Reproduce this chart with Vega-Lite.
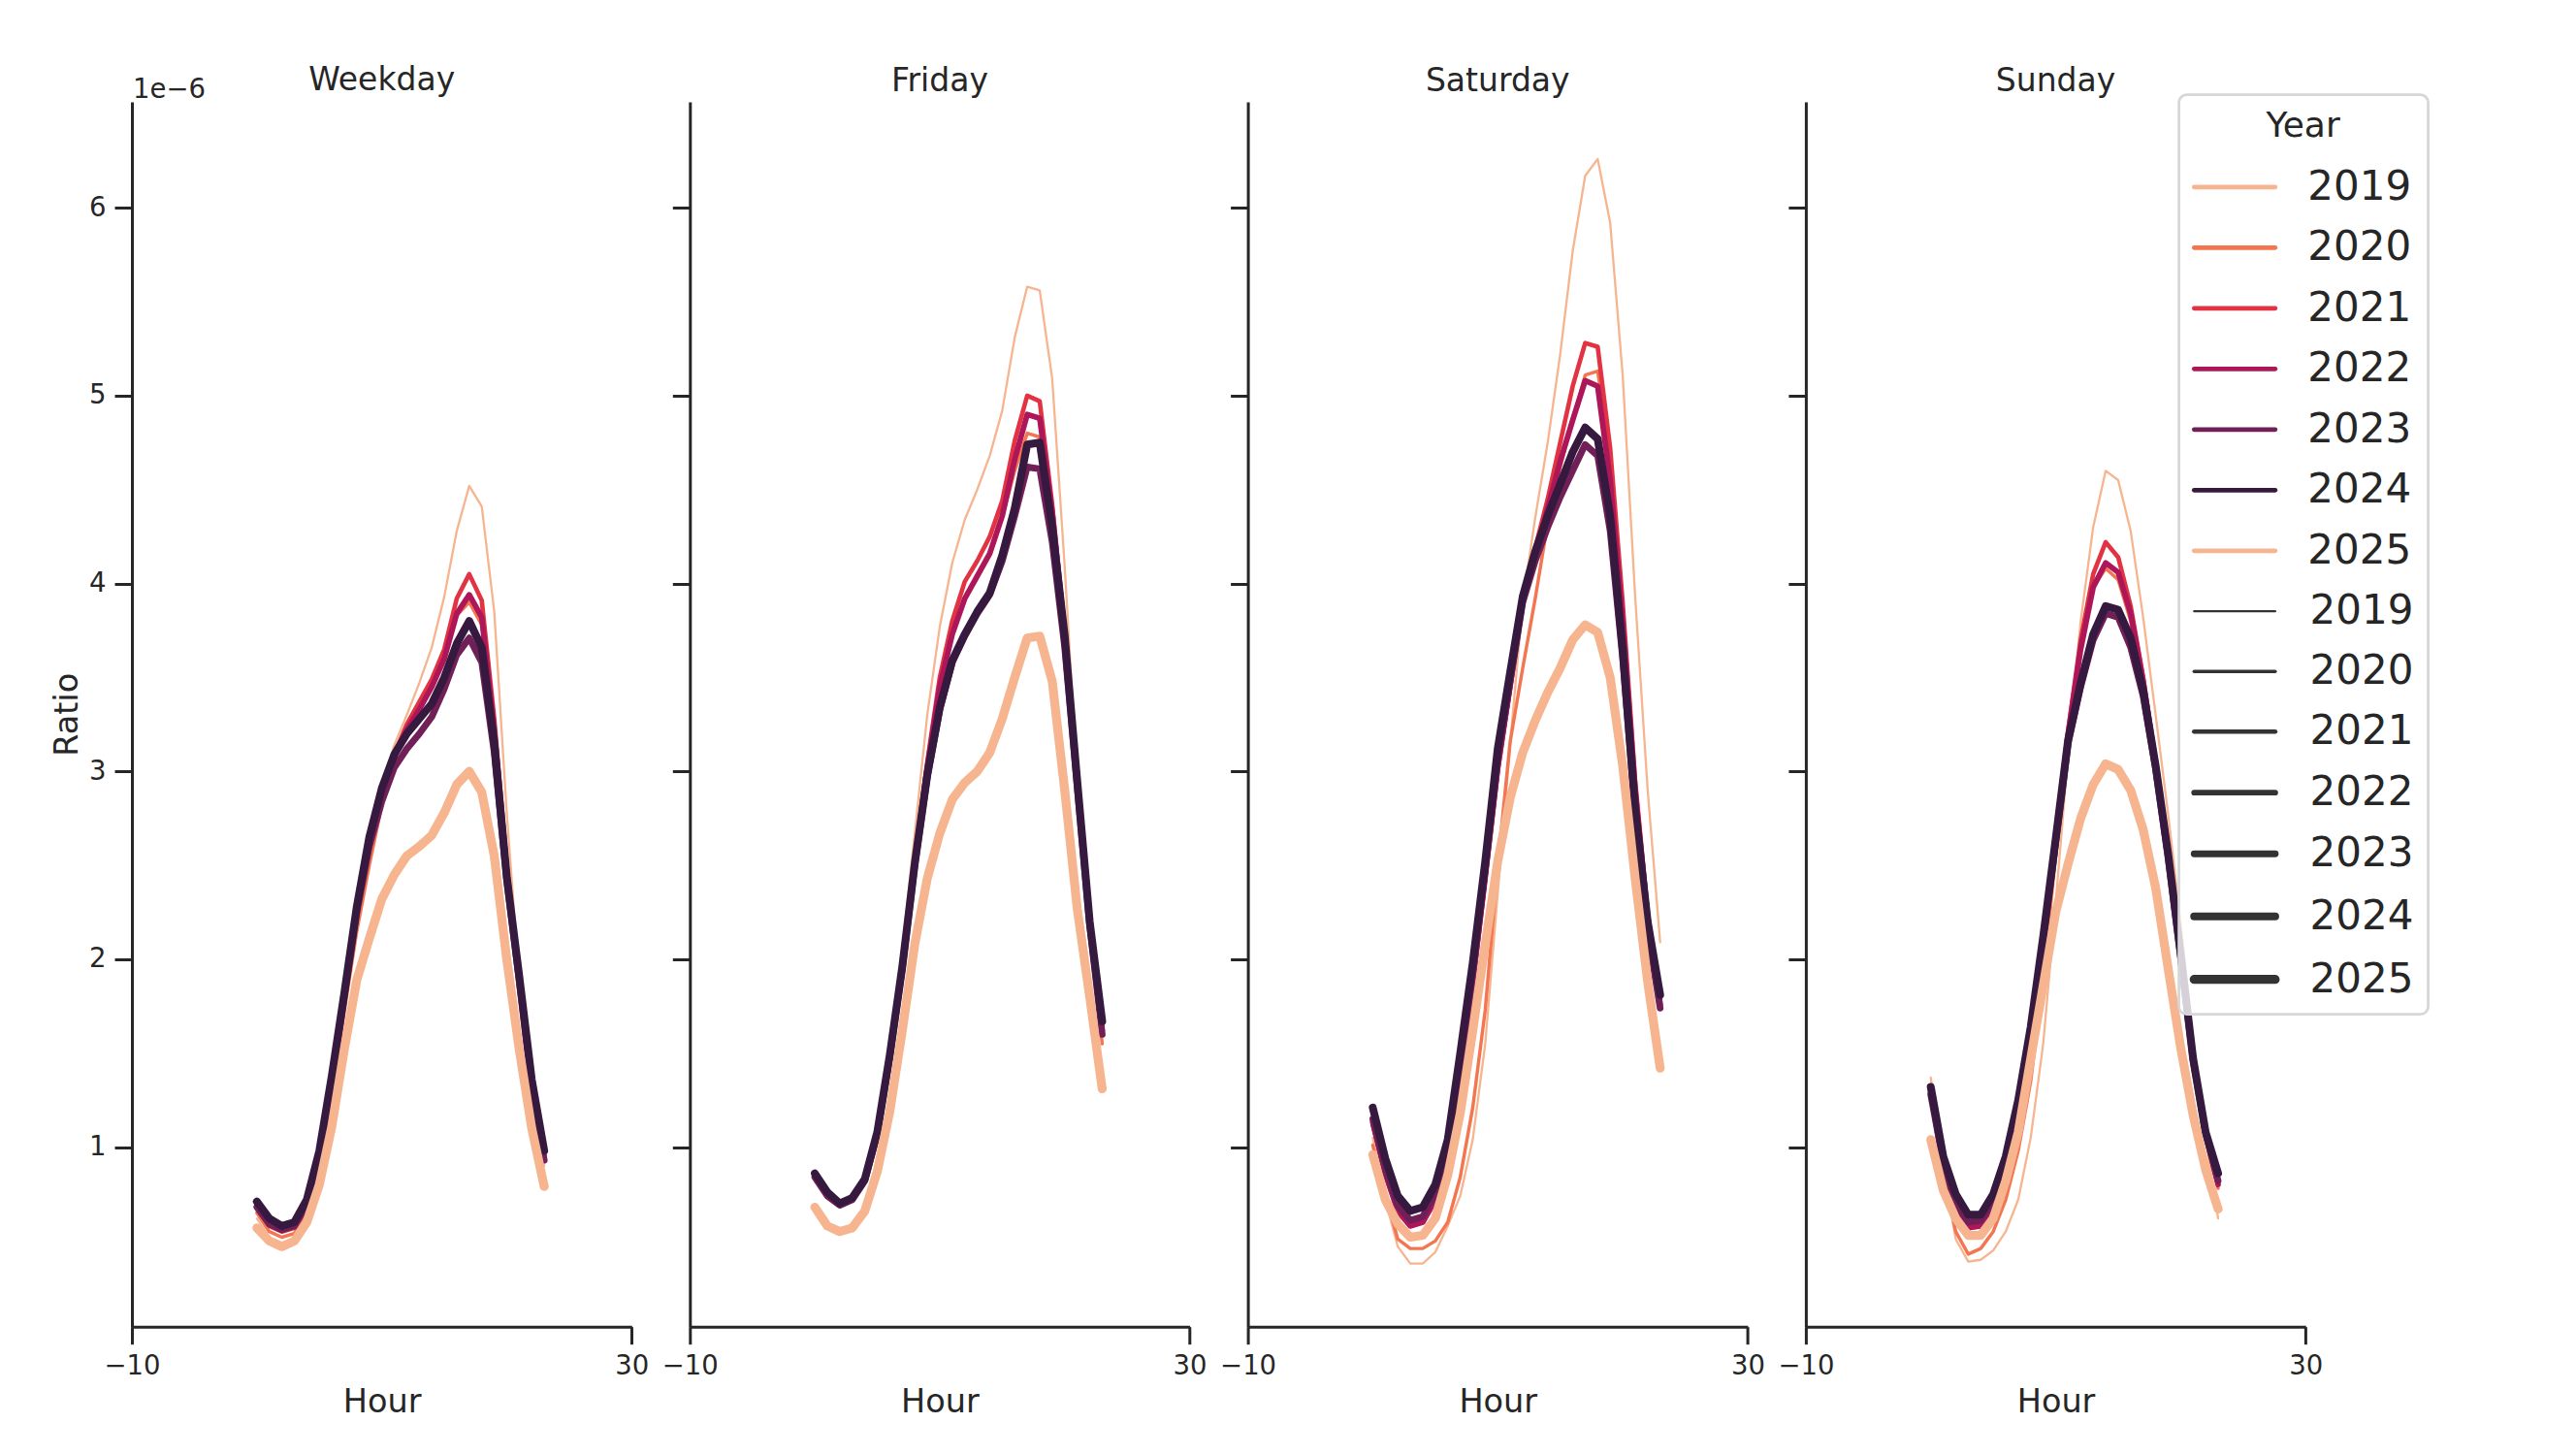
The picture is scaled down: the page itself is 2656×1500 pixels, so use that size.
{
"$schema": "https://vega.github.io/schema/vega-lite/v6.json",
"padding": {"left": 52, "top": 67, "right": 10, "bottom": 10},
"background": "white",
"config": {
  "font": "DejaVu Sans",
  "view": {"stroke": null},
  "axis": {"domainColor": "#262626", "domainWidth": 3, "tickColor": "#262626", "tickWidth": 3, "tickSize": 18, "labelFont": "DejaVu Sans", "labelFontSize": 27.5, "labelColor": "#262626", "labelPadding": 9, "titleFont": "DejaVu Sans", "titleFontSize": 33.5, "titleFontWeight": "normal", "titleColor": "#262626", "grid": false, "labelFlush": false},
  "title": {"font": "DejaVu Sans", "fontSize": 33, "fontWeight": "normal", "color": "#262626", "offset": 4, "frame": "group"},
  "legend": {"labelFont": "DejaVu Sans", "titleFont": "DejaVu Sans", "labelColor": "#262626", "titleColor": "#262626"}
},
"bounds": "flush",
"spacing": 59.3,
"datasets": {"traffic": [
{"Day":"Weekday","Year":2019,"Hour":0,"Ratio":0.62e-6},{"Day":"Weekday","Year":2019,"Hour":1,"Ratio":0.52e-6},{"Day":"Weekday","Year":2019,"Hour":2,"Ratio":0.49e-6},{"Day":"Weekday","Year":2019,"Hour":3,"Ratio":0.51e-6},{"Day":"Weekday","Year":2019,"Hour":4,"Ratio":0.62e-6},{"Day":"Weekday","Year":2019,"Hour":5,"Ratio":0.86e-6},{"Day":"Weekday","Year":2019,"Hour":6,"Ratio":1.25e-6},{"Day":"Weekday","Year":2019,"Hour":7,"Ratio":1.72e-6},{"Day":"Weekday","Year":2019,"Hour":8,"Ratio":2.18e-6},{"Day":"Weekday","Year":2019,"Hour":9,"Ratio":2.58e-6},{"Day":"Weekday","Year":2019,"Hour":10,"Ratio":2.90e-6},{"Day":"Weekday","Year":2019,"Hour":11,"Ratio":3.14e-6},{"Day":"Weekday","Year":2019,"Hour":12,"Ratio":3.30e-6},{"Day":"Weekday","Year":2019,"Hour":13,"Ratio":3.47e-6},{"Day":"Weekday","Year":2019,"Hour":14,"Ratio":3.66e-6},{"Day":"Weekday","Year":2019,"Hour":15,"Ratio":3.93e-6},{"Day":"Weekday","Year":2019,"Hour":16,"Ratio":4.28e-6},{"Day":"Weekday","Year":2019,"Hour":17,"Ratio":4.52e-6},{"Day":"Weekday","Year":2019,"Hour":18,"Ratio":4.41e-6},{"Day":"Weekday","Year":2019,"Hour":19,"Ratio":3.85e-6},{"Day":"Weekday","Year":2019,"Hour":20,"Ratio":2.78e-6},{"Day":"Weekday","Year":2019,"Hour":21,"Ratio":1.88e-6},{"Day":"Weekday","Year":2019,"Hour":22,"Ratio":1.25e-6},{"Day":"Weekday","Year":2019,"Hour":23,"Ratio":0.90e-6},
{"Day":"Weekday","Year":2020,"Hour":0,"Ratio":0.65e-6},{"Day":"Weekday","Year":2020,"Hour":1,"Ratio":0.55e-6},{"Day":"Weekday","Year":2020,"Hour":2,"Ratio":0.52e-6},{"Day":"Weekday","Year":2020,"Hour":3,"Ratio":0.54e-6},{"Day":"Weekday","Year":2020,"Hour":4,"Ratio":0.66e-6},{"Day":"Weekday","Year":2020,"Hour":5,"Ratio":0.90e-6},{"Day":"Weekday","Year":2020,"Hour":6,"Ratio":1.28e-6},{"Day":"Weekday","Year":2020,"Hour":7,"Ratio":1.72e-6},{"Day":"Weekday","Year":2020,"Hour":8,"Ratio":2.15e-6},{"Day":"Weekday","Year":2020,"Hour":9,"Ratio":2.50e-6},{"Day":"Weekday","Year":2020,"Hour":10,"Ratio":2.82e-6},{"Day":"Weekday","Year":2020,"Hour":11,"Ratio":3.06e-6},{"Day":"Weekday","Year":2020,"Hour":12,"Ratio":3.22e-6},{"Day":"Weekday","Year":2020,"Hour":13,"Ratio":3.33e-6},{"Day":"Weekday","Year":2020,"Hour":14,"Ratio":3.45e-6},{"Day":"Weekday","Year":2020,"Hour":15,"Ratio":3.62e-6},{"Day":"Weekday","Year":2020,"Hour":16,"Ratio":3.83e-6},{"Day":"Weekday","Year":2020,"Hour":17,"Ratio":3.90e-6},{"Day":"Weekday","Year":2020,"Hour":18,"Ratio":3.78e-6},{"Day":"Weekday","Year":2020,"Hour":19,"Ratio":3.22e-6},{"Day":"Weekday","Year":2020,"Hour":20,"Ratio":2.48e-6},{"Day":"Weekday","Year":2020,"Hour":21,"Ratio":1.88e-6},{"Day":"Weekday","Year":2020,"Hour":22,"Ratio":1.32e-6},{"Day":"Weekday","Year":2020,"Hour":23,"Ratio":0.94e-6},
{"Day":"Weekday","Year":2021,"Hour":0,"Ratio":0.68e-6},{"Day":"Weekday","Year":2021,"Hour":1,"Ratio":0.58e-6},{"Day":"Weekday","Year":2021,"Hour":2,"Ratio":0.55e-6},{"Day":"Weekday","Year":2021,"Hour":3,"Ratio":0.57e-6},{"Day":"Weekday","Year":2021,"Hour":4,"Ratio":0.68e-6},{"Day":"Weekday","Year":2021,"Hour":5,"Ratio":0.93e-6},{"Day":"Weekday","Year":2021,"Hour":6,"Ratio":1.33e-6},{"Day":"Weekday","Year":2021,"Hour":7,"Ratio":1.78e-6},{"Day":"Weekday","Year":2021,"Hour":8,"Ratio":2.24e-6},{"Day":"Weekday","Year":2021,"Hour":9,"Ratio":2.60e-6},{"Day":"Weekday","Year":2021,"Hour":10,"Ratio":2.88e-6},{"Day":"Weekday","Year":2021,"Hour":11,"Ratio":3.09e-6},{"Day":"Weekday","Year":2021,"Hour":12,"Ratio":3.25e-6},{"Day":"Weekday","Year":2021,"Hour":13,"Ratio":3.37e-6},{"Day":"Weekday","Year":2021,"Hour":14,"Ratio":3.49e-6},{"Day":"Weekday","Year":2021,"Hour":15,"Ratio":3.65e-6},{"Day":"Weekday","Year":2021,"Hour":16,"Ratio":3.92e-6},{"Day":"Weekday","Year":2021,"Hour":17,"Ratio":4.05e-6},{"Day":"Weekday","Year":2021,"Hour":18,"Ratio":3.91e-6},{"Day":"Weekday","Year":2021,"Hour":19,"Ratio":3.28e-6},{"Day":"Weekday","Year":2021,"Hour":20,"Ratio":2.50e-6},{"Day":"Weekday","Year":2021,"Hour":21,"Ratio":1.91e-6},{"Day":"Weekday","Year":2021,"Hour":22,"Ratio":1.34e-6},{"Day":"Weekday","Year":2021,"Hour":23,"Ratio":0.95e-6},
{"Day":"Weekday","Year":2022,"Hour":0,"Ratio":0.69e-6},{"Day":"Weekday","Year":2022,"Hour":1,"Ratio":0.59e-6},{"Day":"Weekday","Year":2022,"Hour":2,"Ratio":0.56e-6},{"Day":"Weekday","Year":2022,"Hour":3,"Ratio":0.58e-6},{"Day":"Weekday","Year":2022,"Hour":4,"Ratio":0.69e-6},{"Day":"Weekday","Year":2022,"Hour":5,"Ratio":0.94e-6},{"Day":"Weekday","Year":2022,"Hour":6,"Ratio":1.34e-6},{"Day":"Weekday","Year":2022,"Hour":7,"Ratio":1.80e-6},{"Day":"Weekday","Year":2022,"Hour":8,"Ratio":2.26e-6},{"Day":"Weekday","Year":2022,"Hour":9,"Ratio":2.62e-6},{"Day":"Weekday","Year":2022,"Hour":10,"Ratio":2.88e-6},{"Day":"Weekday","Year":2022,"Hour":11,"Ratio":3.08e-6},{"Day":"Weekday","Year":2022,"Hour":12,"Ratio":3.22e-6},{"Day":"Weekday","Year":2022,"Hour":13,"Ratio":3.33e-6},{"Day":"Weekday","Year":2022,"Hour":14,"Ratio":3.45e-6},{"Day":"Weekday","Year":2022,"Hour":15,"Ratio":3.60e-6},{"Day":"Weekday","Year":2022,"Hour":16,"Ratio":3.84e-6},{"Day":"Weekday","Year":2022,"Hour":17,"Ratio":3.94e-6},{"Day":"Weekday","Year":2022,"Hour":18,"Ratio":3.82e-6},{"Day":"Weekday","Year":2022,"Hour":19,"Ratio":3.22e-6},{"Day":"Weekday","Year":2022,"Hour":20,"Ratio":2.47e-6},{"Day":"Weekday","Year":2022,"Hour":21,"Ratio":1.90e-6},{"Day":"Weekday","Year":2022,"Hour":22,"Ratio":1.33e-6},{"Day":"Weekday","Year":2022,"Hour":23,"Ratio":0.94e-6},
{"Day":"Weekday","Year":2023,"Hour":0,"Ratio":0.68e-6},{"Day":"Weekday","Year":2023,"Hour":1,"Ratio":0.59e-6},{"Day":"Weekday","Year":2023,"Hour":2,"Ratio":0.56e-6},{"Day":"Weekday","Year":2023,"Hour":3,"Ratio":0.58e-6},{"Day":"Weekday","Year":2023,"Hour":4,"Ratio":0.69e-6},{"Day":"Weekday","Year":2023,"Hour":5,"Ratio":0.95e-6},{"Day":"Weekday","Year":2023,"Hour":6,"Ratio":1.34e-6},{"Day":"Weekday","Year":2023,"Hour":7,"Ratio":1.80e-6},{"Day":"Weekday","Year":2023,"Hour":8,"Ratio":2.25e-6},{"Day":"Weekday","Year":2023,"Hour":9,"Ratio":2.60e-6},{"Day":"Weekday","Year":2023,"Hour":10,"Ratio":2.84e-6},{"Day":"Weekday","Year":2023,"Hour":11,"Ratio":3.02e-6},{"Day":"Weekday","Year":2023,"Hour":12,"Ratio":3.12e-6},{"Day":"Weekday","Year":2023,"Hour":13,"Ratio":3.20e-6},{"Day":"Weekday","Year":2023,"Hour":14,"Ratio":3.29e-6},{"Day":"Weekday","Year":2023,"Hour":15,"Ratio":3.44e-6},{"Day":"Weekday","Year":2023,"Hour":16,"Ratio":3.62e-6},{"Day":"Weekday","Year":2023,"Hour":17,"Ratio":3.71e-6},{"Day":"Weekday","Year":2023,"Hour":18,"Ratio":3.58e-6},{"Day":"Weekday","Year":2023,"Hour":19,"Ratio":3.10e-6},{"Day":"Weekday","Year":2023,"Hour":20,"Ratio":2.42e-6},{"Day":"Weekday","Year":2023,"Hour":21,"Ratio":1.88e-6},{"Day":"Weekday","Year":2023,"Hour":22,"Ratio":1.32e-6},{"Day":"Weekday","Year":2023,"Hour":23,"Ratio":0.93e-6},
{"Day":"Weekday","Year":2024,"Hour":0,"Ratio":0.71e-6},{"Day":"Weekday","Year":2024,"Hour":1,"Ratio":0.62e-6},{"Day":"Weekday","Year":2024,"Hour":2,"Ratio":0.58e-6},{"Day":"Weekday","Year":2024,"Hour":3,"Ratio":0.60e-6},{"Day":"Weekday","Year":2024,"Hour":4,"Ratio":0.72e-6},{"Day":"Weekday","Year":2024,"Hour":5,"Ratio":0.98e-6},{"Day":"Weekday","Year":2024,"Hour":6,"Ratio":1.38e-6},{"Day":"Weekday","Year":2024,"Hour":7,"Ratio":1.82e-6},{"Day":"Weekday","Year":2024,"Hour":8,"Ratio":2.28e-6},{"Day":"Weekday","Year":2024,"Hour":9,"Ratio":2.65e-6},{"Day":"Weekday","Year":2024,"Hour":10,"Ratio":2.91e-6},{"Day":"Weekday","Year":2024,"Hour":11,"Ratio":3.09e-6},{"Day":"Weekday","Year":2024,"Hour":12,"Ratio":3.20e-6},{"Day":"Weekday","Year":2024,"Hour":13,"Ratio":3.28e-6},{"Day":"Weekday","Year":2024,"Hour":14,"Ratio":3.36e-6},{"Day":"Weekday","Year":2024,"Hour":15,"Ratio":3.50e-6},{"Day":"Weekday","Year":2024,"Hour":16,"Ratio":3.68e-6},{"Day":"Weekday","Year":2024,"Hour":17,"Ratio":3.80e-6},{"Day":"Weekday","Year":2024,"Hour":18,"Ratio":3.66e-6},{"Day":"Weekday","Year":2024,"Hour":19,"Ratio":3.15e-6},{"Day":"Weekday","Year":2024,"Hour":20,"Ratio":2.44e-6},{"Day":"Weekday","Year":2024,"Hour":21,"Ratio":1.91e-6},{"Day":"Weekday","Year":2024,"Hour":22,"Ratio":1.36e-6},{"Day":"Weekday","Year":2024,"Hour":23,"Ratio":0.98e-6},
{"Day":"Weekday","Year":2025,"Hour":0,"Ratio":0.57e-6},{"Day":"Weekday","Year":2025,"Hour":1,"Ratio":0.50e-6},{"Day":"Weekday","Year":2025,"Hour":2,"Ratio":0.47e-6},{"Day":"Weekday","Year":2025,"Hour":3,"Ratio":0.50e-6},{"Day":"Weekday","Year":2025,"Hour":4,"Ratio":0.60e-6},{"Day":"Weekday","Year":2025,"Hour":5,"Ratio":0.80e-6},{"Day":"Weekday","Year":2025,"Hour":6,"Ratio":1.11e-6},{"Day":"Weekday","Year":2025,"Hour":7,"Ratio":1.52e-6},{"Day":"Weekday","Year":2025,"Hour":8,"Ratio":1.89e-6},{"Day":"Weekday","Year":2025,"Hour":9,"Ratio":2.11e-6},{"Day":"Weekday","Year":2025,"Hour":10,"Ratio":2.32e-6},{"Day":"Weekday","Year":2025,"Hour":11,"Ratio":2.45e-6},{"Day":"Weekday","Year":2025,"Hour":12,"Ratio":2.55e-6},{"Day":"Weekday","Year":2025,"Hour":13,"Ratio":2.60e-6},{"Day":"Weekday","Year":2025,"Hour":14,"Ratio":2.66e-6},{"Day":"Weekday","Year":2025,"Hour":15,"Ratio":2.78e-6},{"Day":"Weekday","Year":2025,"Hour":16,"Ratio":2.93e-6},{"Day":"Weekday","Year":2025,"Hour":17,"Ratio":3.00e-6},{"Day":"Weekday","Year":2025,"Hour":18,"Ratio":2.89e-6},{"Day":"Weekday","Year":2025,"Hour":19,"Ratio":2.55e-6},{"Day":"Weekday","Year":2025,"Hour":20,"Ratio":2.00e-6},{"Day":"Weekday","Year":2025,"Hour":21,"Ratio":1.52e-6},{"Day":"Weekday","Year":2025,"Hour":22,"Ratio":1.10e-6},{"Day":"Weekday","Year":2025,"Hour":23,"Ratio":0.79e-6},
{"Day":"Friday","Year":2019,"Hour":0,"Ratio":0.82e-6},{"Day":"Friday","Year":2019,"Hour":1,"Ratio":0.73e-6},{"Day":"Friday","Year":2019,"Hour":2,"Ratio":0.68e-6},{"Day":"Friday","Year":2019,"Hour":3,"Ratio":0.71e-6},{"Day":"Friday","Year":2019,"Hour":4,"Ratio":0.80e-6},{"Day":"Friday","Year":2019,"Hour":5,"Ratio":1.05e-6},{"Day":"Friday","Year":2019,"Hour":6,"Ratio":1.48e-6},{"Day":"Friday","Year":2019,"Hour":7,"Ratio":2.05e-6},{"Day":"Friday","Year":2019,"Hour":8,"Ratio":2.67e-6},{"Day":"Friday","Year":2019,"Hour":9,"Ratio":3.30e-6},{"Day":"Friday","Year":2019,"Hour":10,"Ratio":3.77e-6},{"Day":"Friday","Year":2019,"Hour":11,"Ratio":4.11e-6},{"Day":"Friday","Year":2019,"Hour":12,"Ratio":4.34e-6},{"Day":"Friday","Year":2019,"Hour":13,"Ratio":4.50e-6},{"Day":"Friday","Year":2019,"Hour":14,"Ratio":4.68e-6},{"Day":"Friday","Year":2019,"Hour":15,"Ratio":4.92e-6},{"Day":"Friday","Year":2019,"Hour":16,"Ratio":5.31e-6},{"Day":"Friday","Year":2019,"Hour":17,"Ratio":5.58e-6},{"Day":"Friday","Year":2019,"Hour":18,"Ratio":5.56e-6},{"Day":"Friday","Year":2019,"Hour":19,"Ratio":5.09e-6},{"Day":"Friday","Year":2019,"Hour":20,"Ratio":4.09e-6},{"Day":"Friday","Year":2019,"Hour":21,"Ratio":2.95e-6},{"Day":"Friday","Year":2019,"Hour":22,"Ratio":2.15e-6},{"Day":"Friday","Year":2019,"Hour":23,"Ratio":1.55e-6},
{"Day":"Friday","Year":2020,"Hour":0,"Ratio":0.84e-6},{"Day":"Friday","Year":2020,"Hour":1,"Ratio":0.74e-6},{"Day":"Friday","Year":2020,"Hour":2,"Ratio":0.69e-6},{"Day":"Friday","Year":2020,"Hour":3,"Ratio":0.72e-6},{"Day":"Friday","Year":2020,"Hour":4,"Ratio":0.82e-6},{"Day":"Friday","Year":2020,"Hour":5,"Ratio":1.07e-6},{"Day":"Friday","Year":2020,"Hour":6,"Ratio":1.48e-6},{"Day":"Friday","Year":2020,"Hour":7,"Ratio":1.97e-6},{"Day":"Friday","Year":2020,"Hour":8,"Ratio":2.52e-6},{"Day":"Friday","Year":2020,"Hour":9,"Ratio":3.02e-6},{"Day":"Friday","Year":2020,"Hour":10,"Ratio":3.42e-6},{"Day":"Friday","Year":2020,"Hour":11,"Ratio":3.72e-6},{"Day":"Friday","Year":2020,"Hour":12,"Ratio":3.92e-6},{"Day":"Friday","Year":2020,"Hour":13,"Ratio":4.03e-6},{"Day":"Friday","Year":2020,"Hour":14,"Ratio":4.15e-6},{"Day":"Friday","Year":2020,"Hour":15,"Ratio":4.35e-6},{"Day":"Friday","Year":2020,"Hour":16,"Ratio":4.60e-6},{"Day":"Friday","Year":2020,"Hour":17,"Ratio":4.80e-6},{"Day":"Friday","Year":2020,"Hour":18,"Ratio":4.78e-6},{"Day":"Friday","Year":2020,"Hour":19,"Ratio":4.32e-6},{"Day":"Friday","Year":2020,"Hour":20,"Ratio":3.70e-6},{"Day":"Friday","Year":2020,"Hour":21,"Ratio":2.92e-6},{"Day":"Friday","Year":2020,"Hour":22,"Ratio":2.15e-6},{"Day":"Friday","Year":2020,"Hour":23,"Ratio":1.55e-6},
{"Day":"Friday","Year":2021,"Hour":0,"Ratio":0.85e-6},{"Day":"Friday","Year":2021,"Hour":1,"Ratio":0.75e-6},{"Day":"Friday","Year":2021,"Hour":2,"Ratio":0.70e-6},{"Day":"Friday","Year":2021,"Hour":3,"Ratio":0.73e-6},{"Day":"Friday","Year":2021,"Hour":4,"Ratio":0.83e-6},{"Day":"Friday","Year":2021,"Hour":5,"Ratio":1.08e-6},{"Day":"Friday","Year":2021,"Hour":6,"Ratio":1.49e-6},{"Day":"Friday","Year":2021,"Hour":7,"Ratio":1.98e-6},{"Day":"Friday","Year":2021,"Hour":8,"Ratio":2.54e-6},{"Day":"Friday","Year":2021,"Hour":9,"Ratio":3.05e-6},{"Day":"Friday","Year":2021,"Hour":10,"Ratio":3.50e-6},{"Day":"Friday","Year":2021,"Hour":11,"Ratio":3.80e-6},{"Day":"Friday","Year":2021,"Hour":12,"Ratio":4.01e-6},{"Day":"Friday","Year":2021,"Hour":13,"Ratio":4.12e-6},{"Day":"Friday","Year":2021,"Hour":14,"Ratio":4.25e-6},{"Day":"Friday","Year":2021,"Hour":15,"Ratio":4.44e-6},{"Day":"Friday","Year":2021,"Hour":16,"Ratio":4.76e-6},{"Day":"Friday","Year":2021,"Hour":17,"Ratio":5.00e-6},{"Day":"Friday","Year":2021,"Hour":18,"Ratio":4.97e-6},{"Day":"Friday","Year":2021,"Hour":19,"Ratio":4.42e-6},{"Day":"Friday","Year":2021,"Hour":20,"Ratio":3.75e-6},{"Day":"Friday","Year":2021,"Hour":21,"Ratio":2.95e-6},{"Day":"Friday","Year":2021,"Hour":22,"Ratio":2.18e-6},{"Day":"Friday","Year":2021,"Hour":23,"Ratio":1.60e-6},
{"Day":"Friday","Year":2022,"Hour":0,"Ratio":0.85e-6},{"Day":"Friday","Year":2022,"Hour":1,"Ratio":0.75e-6},{"Day":"Friday","Year":2022,"Hour":2,"Ratio":0.70e-6},{"Day":"Friday","Year":2022,"Hour":3,"Ratio":0.73e-6},{"Day":"Friday","Year":2022,"Hour":4,"Ratio":0.83e-6},{"Day":"Friday","Year":2022,"Hour":5,"Ratio":1.08e-6},{"Day":"Friday","Year":2022,"Hour":6,"Ratio":1.49e-6},{"Day":"Friday","Year":2022,"Hour":7,"Ratio":1.97e-6},{"Day":"Friday","Year":2022,"Hour":8,"Ratio":2.52e-6},{"Day":"Friday","Year":2022,"Hour":9,"Ratio":3.02e-6},{"Day":"Friday","Year":2022,"Hour":10,"Ratio":3.45e-6},{"Day":"Friday","Year":2022,"Hour":11,"Ratio":3.73e-6},{"Day":"Friday","Year":2022,"Hour":12,"Ratio":3.92e-6},{"Day":"Friday","Year":2022,"Hour":13,"Ratio":4.04e-6},{"Day":"Friday","Year":2022,"Hour":14,"Ratio":4.16e-6},{"Day":"Friday","Year":2022,"Hour":15,"Ratio":4.36e-6},{"Day":"Friday","Year":2022,"Hour":16,"Ratio":4.66e-6},{"Day":"Friday","Year":2022,"Hour":17,"Ratio":4.90e-6},{"Day":"Friday","Year":2022,"Hour":18,"Ratio":4.88e-6},{"Day":"Friday","Year":2022,"Hour":19,"Ratio":4.38e-6},{"Day":"Friday","Year":2022,"Hour":20,"Ratio":3.73e-6},{"Day":"Friday","Year":2022,"Hour":21,"Ratio":2.95e-6},{"Day":"Friday","Year":2022,"Hour":22,"Ratio":2.18e-6},{"Day":"Friday","Year":2022,"Hour":23,"Ratio":1.62e-6},
{"Day":"Friday","Year":2023,"Hour":0,"Ratio":0.84e-6},{"Day":"Friday","Year":2023,"Hour":1,"Ratio":0.74e-6},{"Day":"Friday","Year":2023,"Hour":2,"Ratio":0.69e-6},{"Day":"Friday","Year":2023,"Hour":3,"Ratio":0.72e-6},{"Day":"Friday","Year":2023,"Hour":4,"Ratio":0.82e-6},{"Day":"Friday","Year":2023,"Hour":5,"Ratio":1.07e-6},{"Day":"Friday","Year":2023,"Hour":6,"Ratio":1.48e-6},{"Day":"Friday","Year":2023,"Hour":7,"Ratio":1.95e-6},{"Day":"Friday","Year":2023,"Hour":8,"Ratio":2.50e-6},{"Day":"Friday","Year":2023,"Hour":9,"Ratio":2.97e-6},{"Day":"Friday","Year":2023,"Hour":10,"Ratio":3.33e-6},{"Day":"Friday","Year":2023,"Hour":11,"Ratio":3.58e-6},{"Day":"Friday","Year":2023,"Hour":12,"Ratio":3.72e-6},{"Day":"Friday","Year":2023,"Hour":13,"Ratio":3.84e-6},{"Day":"Friday","Year":2023,"Hour":14,"Ratio":3.94e-6},{"Day":"Friday","Year":2023,"Hour":15,"Ratio":4.12e-6},{"Day":"Friday","Year":2023,"Hour":16,"Ratio":4.36e-6},{"Day":"Friday","Year":2023,"Hour":17,"Ratio":4.62e-6},{"Day":"Friday","Year":2023,"Hour":18,"Ratio":4.61e-6},{"Day":"Friday","Year":2023,"Hour":19,"Ratio":4.22e-6},{"Day":"Friday","Year":2023,"Hour":20,"Ratio":3.66e-6},{"Day":"Friday","Year":2023,"Hour":21,"Ratio":2.92e-6},{"Day":"Friday","Year":2023,"Hour":22,"Ratio":2.18e-6},{"Day":"Friday","Year":2023,"Hour":23,"Ratio":1.60e-6},
{"Day":"Friday","Year":2024,"Hour":0,"Ratio":0.86e-6},{"Day":"Friday","Year":2024,"Hour":1,"Ratio":0.76e-6},{"Day":"Friday","Year":2024,"Hour":2,"Ratio":0.70e-6},{"Day":"Friday","Year":2024,"Hour":3,"Ratio":0.73e-6},{"Day":"Friday","Year":2024,"Hour":4,"Ratio":0.83e-6},{"Day":"Friday","Year":2024,"Hour":5,"Ratio":1.08e-6},{"Day":"Friday","Year":2024,"Hour":6,"Ratio":1.49e-6},{"Day":"Friday","Year":2024,"Hour":7,"Ratio":1.96e-6},{"Day":"Friday","Year":2024,"Hour":8,"Ratio":2.51e-6},{"Day":"Friday","Year":2024,"Hour":9,"Ratio":2.98e-6},{"Day":"Friday","Year":2024,"Hour":10,"Ratio":3.34e-6},{"Day":"Friday","Year":2024,"Hour":11,"Ratio":3.59e-6},{"Day":"Friday","Year":2024,"Hour":12,"Ratio":3.73e-6},{"Day":"Friday","Year":2024,"Hour":13,"Ratio":3.85e-6},{"Day":"Friday","Year":2024,"Hour":14,"Ratio":3.95e-6},{"Day":"Friday","Year":2024,"Hour":15,"Ratio":4.15e-6},{"Day":"Friday","Year":2024,"Hour":16,"Ratio":4.40e-6},{"Day":"Friday","Year":2024,"Hour":17,"Ratio":4.74e-6},{"Day":"Friday","Year":2024,"Hour":18,"Ratio":4.75e-6},{"Day":"Friday","Year":2024,"Hour":19,"Ratio":4.30e-6},{"Day":"Friday","Year":2024,"Hour":20,"Ratio":3.72e-6},{"Day":"Friday","Year":2024,"Hour":21,"Ratio":2.95e-6},{"Day":"Friday","Year":2024,"Hour":22,"Ratio":2.20e-6},{"Day":"Friday","Year":2024,"Hour":23,"Ratio":1.67e-6},
{"Day":"Friday","Year":2025,"Hour":0,"Ratio":0.68e-6},{"Day":"Friday","Year":2025,"Hour":1,"Ratio":0.58e-6},{"Day":"Friday","Year":2025,"Hour":2,"Ratio":0.55e-6},{"Day":"Friday","Year":2025,"Hour":3,"Ratio":0.57e-6},{"Day":"Friday","Year":2025,"Hour":4,"Ratio":0.66e-6},{"Day":"Friday","Year":2025,"Hour":5,"Ratio":0.87e-6},{"Day":"Friday","Year":2025,"Hour":6,"Ratio":1.19e-6},{"Day":"Friday","Year":2025,"Hour":7,"Ratio":1.62e-6},{"Day":"Friday","Year":2025,"Hour":8,"Ratio":2.08e-6},{"Day":"Friday","Year":2025,"Hour":9,"Ratio":2.43e-6},{"Day":"Friday","Year":2025,"Hour":10,"Ratio":2.67e-6},{"Day":"Friday","Year":2025,"Hour":11,"Ratio":2.85e-6},{"Day":"Friday","Year":2025,"Hour":12,"Ratio":2.94e-6},{"Day":"Friday","Year":2025,"Hour":13,"Ratio":3.00e-6},{"Day":"Friday","Year":2025,"Hour":14,"Ratio":3.10e-6},{"Day":"Friday","Year":2025,"Hour":15,"Ratio":3.28e-6},{"Day":"Friday","Year":2025,"Hour":16,"Ratio":3.50e-6},{"Day":"Friday","Year":2025,"Hour":17,"Ratio":3.71e-6},{"Day":"Friday","Year":2025,"Hour":18,"Ratio":3.72e-6},{"Day":"Friday","Year":2025,"Hour":19,"Ratio":3.48e-6},{"Day":"Friday","Year":2025,"Hour":20,"Ratio":2.90e-6},{"Day":"Friday","Year":2025,"Hour":21,"Ratio":2.27e-6},{"Day":"Friday","Year":2025,"Hour":22,"Ratio":1.80e-6},{"Day":"Friday","Year":2025,"Hour":23,"Ratio":1.31e-6},
{"Day":"Saturday","Year":2019,"Hour":0,"Ratio":1.05e-6},{"Day":"Saturday","Year":2019,"Hour":1,"Ratio":0.72e-6},{"Day":"Saturday","Year":2019,"Hour":2,"Ratio":0.47e-6},{"Day":"Saturday","Year":2019,"Hour":3,"Ratio":0.38e-6},{"Day":"Saturday","Year":2019,"Hour":4,"Ratio":0.38e-6},{"Day":"Saturday","Year":2019,"Hour":5,"Ratio":0.44e-6},{"Day":"Saturday","Year":2019,"Hour":6,"Ratio":0.58e-6},{"Day":"Saturday","Year":2019,"Hour":7,"Ratio":0.74e-6},{"Day":"Saturday","Year":2019,"Hour":8,"Ratio":1.04e-6},{"Day":"Saturday","Year":2019,"Hour":9,"Ratio":1.55e-6},{"Day":"Saturday","Year":2019,"Hour":10,"Ratio":2.35e-6},{"Day":"Saturday","Year":2019,"Hour":11,"Ratio":3.15e-6},{"Day":"Saturday","Year":2019,"Hour":12,"Ratio":3.90e-6},{"Day":"Saturday","Year":2019,"Hour":13,"Ratio":4.35e-6},{"Day":"Saturday","Year":2019,"Hour":14,"Ratio":4.75e-6},{"Day":"Saturday","Year":2019,"Hour":15,"Ratio":5.22e-6},{"Day":"Saturday","Year":2019,"Hour":16,"Ratio":5.77e-6},{"Day":"Saturday","Year":2019,"Hour":17,"Ratio":6.17e-6},{"Day":"Saturday","Year":2019,"Hour":18,"Ratio":6.26e-6},{"Day":"Saturday","Year":2019,"Hour":19,"Ratio":5.92e-6},{"Day":"Saturday","Year":2019,"Hour":20,"Ratio":5.11e-6},{"Day":"Saturday","Year":2019,"Hour":21,"Ratio":3.93e-6},{"Day":"Saturday","Year":2019,"Hour":22,"Ratio":2.90e-6},{"Day":"Saturday","Year":2019,"Hour":23,"Ratio":2.09e-6},
{"Day":"Saturday","Year":2020,"Hour":0,"Ratio":1.01e-6},{"Day":"Saturday","Year":2020,"Hour":1,"Ratio":0.75e-6},{"Day":"Saturday","Year":2020,"Hour":2,"Ratio":0.51e-6},{"Day":"Saturday","Year":2020,"Hour":3,"Ratio":0.46e-6},{"Day":"Saturday","Year":2020,"Hour":4,"Ratio":0.46e-6},{"Day":"Saturday","Year":2020,"Hour":5,"Ratio":0.50e-6},{"Day":"Saturday","Year":2020,"Hour":6,"Ratio":0.60e-6},{"Day":"Saturday","Year":2020,"Hour":7,"Ratio":0.84e-6},{"Day":"Saturday","Year":2020,"Hour":8,"Ratio":1.21e-6},{"Day":"Saturday","Year":2020,"Hour":9,"Ratio":1.73e-6},{"Day":"Saturday","Year":2020,"Hour":10,"Ratio":2.50e-6},{"Day":"Saturday","Year":2020,"Hour":11,"Ratio":3.16e-6},{"Day":"Saturday","Year":2020,"Hour":12,"Ratio":3.55e-6},{"Day":"Saturday","Year":2020,"Hour":13,"Ratio":3.92e-6},{"Day":"Saturday","Year":2020,"Hour":14,"Ratio":4.32e-6},{"Day":"Saturday","Year":2020,"Hour":15,"Ratio":4.62e-6},{"Day":"Saturday","Year":2020,"Hour":16,"Ratio":4.87e-6},{"Day":"Saturday","Year":2020,"Hour":17,"Ratio":5.11e-6},{"Day":"Saturday","Year":2020,"Hour":18,"Ratio":5.13e-6},{"Day":"Saturday","Year":2020,"Hour":19,"Ratio":4.70e-6},{"Day":"Saturday","Year":2020,"Hour":20,"Ratio":3.88e-6},{"Day":"Saturday","Year":2020,"Hour":21,"Ratio":2.90e-6},{"Day":"Saturday","Year":2020,"Hour":22,"Ratio":2.20e-6},{"Day":"Saturday","Year":2020,"Hour":23,"Ratio":1.75e-6},
{"Day":"Saturday","Year":2021,"Hour":0,"Ratio":1.12e-6},{"Day":"Saturday","Year":2021,"Hour":1,"Ratio":0.85e-6},{"Day":"Saturday","Year":2021,"Hour":2,"Ratio":0.66e-6},{"Day":"Saturday","Year":2021,"Hour":3,"Ratio":0.59e-6},{"Day":"Saturday","Year":2021,"Hour":4,"Ratio":0.60e-6},{"Day":"Saturday","Year":2021,"Hour":5,"Ratio":0.71e-6},{"Day":"Saturday","Year":2021,"Hour":6,"Ratio":0.95e-6},{"Day":"Saturday","Year":2021,"Hour":7,"Ratio":1.38e-6},{"Day":"Saturday","Year":2021,"Hour":8,"Ratio":1.86e-6},{"Day":"Saturday","Year":2021,"Hour":9,"Ratio":2.42e-6},{"Day":"Saturday","Year":2021,"Hour":10,"Ratio":3.00e-6},{"Day":"Saturday","Year":2021,"Hour":11,"Ratio":3.45e-6},{"Day":"Saturday","Year":2021,"Hour":12,"Ratio":3.90e-6},{"Day":"Saturday","Year":2021,"Hour":13,"Ratio":4.19e-6},{"Day":"Saturday","Year":2021,"Hour":14,"Ratio":4.45e-6},{"Day":"Saturday","Year":2021,"Hour":15,"Ratio":4.75e-6},{"Day":"Saturday","Year":2021,"Hour":16,"Ratio":5.05e-6},{"Day":"Saturday","Year":2021,"Hour":17,"Ratio":5.28e-6},{"Day":"Saturday","Year":2021,"Hour":18,"Ratio":5.26e-6},{"Day":"Saturday","Year":2021,"Hour":19,"Ratio":4.72e-6},{"Day":"Saturday","Year":2021,"Hour":20,"Ratio":3.90e-6},{"Day":"Saturday","Year":2021,"Hour":21,"Ratio":2.95e-6},{"Day":"Saturday","Year":2021,"Hour":22,"Ratio":2.25e-6},{"Day":"Saturday","Year":2021,"Hour":23,"Ratio":1.78e-6},
{"Day":"Saturday","Year":2022,"Hour":0,"Ratio":1.13e-6},{"Day":"Saturday","Year":2022,"Hour":1,"Ratio":0.86e-6},{"Day":"Saturday","Year":2022,"Hour":2,"Ratio":0.66e-6},{"Day":"Saturday","Year":2022,"Hour":3,"Ratio":0.58e-6},{"Day":"Saturday","Year":2022,"Hour":4,"Ratio":0.60e-6},{"Day":"Saturday","Year":2022,"Hour":5,"Ratio":0.72e-6},{"Day":"Saturday","Year":2022,"Hour":6,"Ratio":0.96e-6},{"Day":"Saturday","Year":2022,"Hour":7,"Ratio":1.40e-6},{"Day":"Saturday","Year":2022,"Hour":8,"Ratio":1.88e-6},{"Day":"Saturday","Year":2022,"Hour":9,"Ratio":2.44e-6},{"Day":"Saturday","Year":2022,"Hour":10,"Ratio":3.02e-6},{"Day":"Saturday","Year":2022,"Hour":11,"Ratio":3.46e-6},{"Day":"Saturday","Year":2022,"Hour":12,"Ratio":3.90e-6},{"Day":"Saturday","Year":2022,"Hour":13,"Ratio":4.15e-6},{"Day":"Saturday","Year":2022,"Hour":14,"Ratio":4.40e-6},{"Day":"Saturday","Year":2022,"Hour":15,"Ratio":4.65e-6},{"Day":"Saturday","Year":2022,"Hour":16,"Ratio":4.87e-6},{"Day":"Saturday","Year":2022,"Hour":17,"Ratio":5.08e-6},{"Day":"Saturday","Year":2022,"Hour":18,"Ratio":5.05e-6},{"Day":"Saturday","Year":2022,"Hour":19,"Ratio":4.55e-6},{"Day":"Saturday","Year":2022,"Hour":20,"Ratio":3.80e-6},{"Day":"Saturday","Year":2022,"Hour":21,"Ratio":2.90e-6},{"Day":"Saturday","Year":2022,"Hour":22,"Ratio":2.22e-6},{"Day":"Saturday","Year":2022,"Hour":23,"Ratio":1.76e-6},
{"Day":"Saturday","Year":2023,"Hour":0,"Ratio":1.15e-6},{"Day":"Saturday","Year":2023,"Hour":1,"Ratio":0.88e-6},{"Day":"Saturday","Year":2023,"Hour":2,"Ratio":0.69e-6},{"Day":"Saturday","Year":2023,"Hour":3,"Ratio":0.61e-6},{"Day":"Saturday","Year":2023,"Hour":4,"Ratio":0.63e-6},{"Day":"Saturday","Year":2023,"Hour":5,"Ratio":0.75e-6},{"Day":"Saturday","Year":2023,"Hour":6,"Ratio":0.99e-6},{"Day":"Saturday","Year":2023,"Hour":7,"Ratio":1.44e-6},{"Day":"Saturday","Year":2023,"Hour":8,"Ratio":1.92e-6},{"Day":"Saturday","Year":2023,"Hour":9,"Ratio":2.48e-6},{"Day":"Saturday","Year":2023,"Hour":10,"Ratio":3.06e-6},{"Day":"Saturday","Year":2023,"Hour":11,"Ratio":3.48e-6},{"Day":"Saturday","Year":2023,"Hour":12,"Ratio":3.90e-6},{"Day":"Saturday","Year":2023,"Hour":13,"Ratio":4.12e-6},{"Day":"Saturday","Year":2023,"Hour":14,"Ratio":4.30e-6},{"Day":"Saturday","Year":2023,"Hour":15,"Ratio":4.46e-6},{"Day":"Saturday","Year":2023,"Hour":16,"Ratio":4.60e-6},{"Day":"Saturday","Year":2023,"Hour":17,"Ratio":4.74e-6},{"Day":"Saturday","Year":2023,"Hour":18,"Ratio":4.68e-6},{"Day":"Saturday","Year":2023,"Hour":19,"Ratio":4.28e-6},{"Day":"Saturday","Year":2023,"Hour":20,"Ratio":3.60e-6},{"Day":"Saturday","Year":2023,"Hour":21,"Ratio":2.78e-6},{"Day":"Saturday","Year":2023,"Hour":22,"Ratio":2.15e-6},{"Day":"Saturday","Year":2023,"Hour":23,"Ratio":1.74e-6},
{"Day":"Saturday","Year":2024,"Hour":0,"Ratio":1.21e-6},{"Day":"Saturday","Year":2024,"Hour":1,"Ratio":0.94e-6},{"Day":"Saturday","Year":2024,"Hour":2,"Ratio":0.74e-6},{"Day":"Saturday","Year":2024,"Hour":3,"Ratio":0.66e-6},{"Day":"Saturday","Year":2024,"Hour":4,"Ratio":0.68e-6},{"Day":"Saturday","Year":2024,"Hour":5,"Ratio":0.80e-6},{"Day":"Saturday","Year":2024,"Hour":6,"Ratio":1.04e-6},{"Day":"Saturday","Year":2024,"Hour":7,"Ratio":1.50e-6},{"Day":"Saturday","Year":2024,"Hour":8,"Ratio":1.98e-6},{"Day":"Saturday","Year":2024,"Hour":9,"Ratio":2.52e-6},{"Day":"Saturday","Year":2024,"Hour":10,"Ratio":3.12e-6},{"Day":"Saturday","Year":2024,"Hour":11,"Ratio":3.53e-6},{"Day":"Saturday","Year":2024,"Hour":12,"Ratio":3.93e-6},{"Day":"Saturday","Year":2024,"Hour":13,"Ratio":4.17e-6},{"Day":"Saturday","Year":2024,"Hour":14,"Ratio":4.36e-6},{"Day":"Saturday","Year":2024,"Hour":15,"Ratio":4.53e-6},{"Day":"Saturday","Year":2024,"Hour":16,"Ratio":4.70e-6},{"Day":"Saturday","Year":2024,"Hour":17,"Ratio":4.83e-6},{"Day":"Saturday","Year":2024,"Hour":18,"Ratio":4.77e-6},{"Day":"Saturday","Year":2024,"Hour":19,"Ratio":4.36e-6},{"Day":"Saturday","Year":2024,"Hour":20,"Ratio":3.65e-6},{"Day":"Saturday","Year":2024,"Hour":21,"Ratio":2.80e-6},{"Day":"Saturday","Year":2024,"Hour":22,"Ratio":2.20e-6},{"Day":"Saturday","Year":2024,"Hour":23,"Ratio":1.81e-6},
{"Day":"Saturday","Year":2025,"Hour":0,"Ratio":0.96e-6},{"Day":"Saturday","Year":2025,"Hour":1,"Ratio":0.72e-6},{"Day":"Saturday","Year":2025,"Hour":2,"Ratio":0.59e-6},{"Day":"Saturday","Year":2025,"Hour":3,"Ratio":0.52e-6},{"Day":"Saturday","Year":2025,"Hour":4,"Ratio":0.53e-6},{"Day":"Saturday","Year":2025,"Hour":5,"Ratio":0.62e-6},{"Day":"Saturday","Year":2025,"Hour":6,"Ratio":0.85e-6},{"Day":"Saturday","Year":2025,"Hour":7,"Ratio":1.18e-6},{"Day":"Saturday","Year":2025,"Hour":8,"Ratio":1.62e-6},{"Day":"Saturday","Year":2025,"Hour":9,"Ratio":2.08e-6},{"Day":"Saturday","Year":2025,"Hour":10,"Ratio":2.52e-6},{"Day":"Saturday","Year":2025,"Hour":11,"Ratio":2.86e-6},{"Day":"Saturday","Year":2025,"Hour":12,"Ratio":3.10e-6},{"Day":"Saturday","Year":2025,"Hour":13,"Ratio":3.27e-6},{"Day":"Saturday","Year":2025,"Hour":14,"Ratio":3.42e-6},{"Day":"Saturday","Year":2025,"Hour":15,"Ratio":3.55e-6},{"Day":"Saturday","Year":2025,"Hour":16,"Ratio":3.70e-6},{"Day":"Saturday","Year":2025,"Hour":17,"Ratio":3.78e-6},{"Day":"Saturday","Year":2025,"Hour":18,"Ratio":3.74e-6},{"Day":"Saturday","Year":2025,"Hour":19,"Ratio":3.50e-6},{"Day":"Saturday","Year":2025,"Hour":20,"Ratio":3.03e-6},{"Day":"Saturday","Year":2025,"Hour":21,"Ratio":2.43e-6},{"Day":"Saturday","Year":2025,"Hour":22,"Ratio":1.88e-6},{"Day":"Saturday","Year":2025,"Hour":23,"Ratio":1.42e-6},
{"Day":"Sunday","Year":2019,"Hour":0,"Ratio":1.37e-6},{"Day":"Sunday","Year":2019,"Hour":1,"Ratio":0.90e-6},{"Day":"Sunday","Year":2019,"Hour":2,"Ratio":0.51e-6},{"Day":"Sunday","Year":2019,"Hour":3,"Ratio":0.39e-6},{"Day":"Sunday","Year":2019,"Hour":4,"Ratio":0.40e-6},{"Day":"Sunday","Year":2019,"Hour":5,"Ratio":0.45e-6},{"Day":"Sunday","Year":2019,"Hour":6,"Ratio":0.55e-6},{"Day":"Sunday","Year":2019,"Hour":7,"Ratio":0.72e-6},{"Day":"Sunday","Year":2019,"Hour":8,"Ratio":1.05e-6},{"Day":"Sunday","Year":2019,"Hour":9,"Ratio":1.55e-6},{"Day":"Sunday","Year":2019,"Hour":10,"Ratio":2.30e-6},{"Day":"Sunday","Year":2019,"Hour":11,"Ratio":3.10e-6},{"Day":"Sunday","Year":2019,"Hour":12,"Ratio":3.80e-6},{"Day":"Sunday","Year":2019,"Hour":13,"Ratio":4.30e-6},{"Day":"Sunday","Year":2019,"Hour":14,"Ratio":4.60e-6},{"Day":"Sunday","Year":2019,"Hour":15,"Ratio":4.55e-6},{"Day":"Sunday","Year":2019,"Hour":16,"Ratio":4.28e-6},{"Day":"Sunday","Year":2019,"Hour":17,"Ratio":3.82e-6},{"Day":"Sunday","Year":2019,"Hour":18,"Ratio":3.30e-6},{"Day":"Sunday","Year":2019,"Hour":19,"Ratio":2.77e-6},{"Day":"Sunday","Year":2019,"Hour":20,"Ratio":2.20e-6},{"Day":"Sunday","Year":2019,"Hour":21,"Ratio":1.55e-6},{"Day":"Sunday","Year":2019,"Hour":22,"Ratio":1.05e-6},{"Day":"Sunday","Year":2019,"Hour":23,"Ratio":0.62e-6},
{"Day":"Sunday","Year":2020,"Hour":0,"Ratio":1.28e-6},{"Day":"Sunday","Year":2020,"Hour":1,"Ratio":0.85e-6},{"Day":"Sunday","Year":2020,"Hour":2,"Ratio":0.55e-6},{"Day":"Sunday","Year":2020,"Hour":3,"Ratio":0.43e-6},{"Day":"Sunday","Year":2020,"Hour":4,"Ratio":0.46e-6},{"Day":"Sunday","Year":2020,"Hour":5,"Ratio":0.55e-6},{"Day":"Sunday","Year":2020,"Hour":6,"Ratio":0.72e-6},{"Day":"Sunday","Year":2020,"Hour":7,"Ratio":0.98e-6},{"Day":"Sunday","Year":2020,"Hour":8,"Ratio":1.35e-6},{"Day":"Sunday","Year":2020,"Hour":9,"Ratio":1.90e-6},{"Day":"Sunday","Year":2020,"Hour":10,"Ratio":2.55e-6},{"Day":"Sunday","Year":2020,"Hour":11,"Ratio":3.20e-6},{"Day":"Sunday","Year":2020,"Hour":12,"Ratio":3.70e-6},{"Day":"Sunday","Year":2020,"Hour":13,"Ratio":3.98e-6},{"Day":"Sunday","Year":2020,"Hour":14,"Ratio":4.08e-6},{"Day":"Sunday","Year":2020,"Hour":15,"Ratio":4.02e-6},{"Day":"Sunday","Year":2020,"Hour":16,"Ratio":3.80e-6},{"Day":"Sunday","Year":2020,"Hour":17,"Ratio":3.45e-6},{"Day":"Sunday","Year":2020,"Hour":18,"Ratio":3.00e-6},{"Day":"Sunday","Year":2020,"Hour":19,"Ratio":2.52e-6},{"Day":"Sunday","Year":2020,"Hour":20,"Ratio":2.00e-6},{"Day":"Sunday","Year":2020,"Hour":21,"Ratio":1.45e-6},{"Day":"Sunday","Year":2020,"Hour":22,"Ratio":1.05e-6},{"Day":"Sunday","Year":2020,"Hour":23,"Ratio":0.78e-6},
{"Day":"Sunday","Year":2021,"Hour":0,"Ratio":1.30e-6},{"Day":"Sunday","Year":2021,"Hour":1,"Ratio":0.90e-6},{"Day":"Sunday","Year":2021,"Hour":2,"Ratio":0.66e-6},{"Day":"Sunday","Year":2021,"Hour":3,"Ratio":0.57e-6},{"Day":"Sunday","Year":2021,"Hour":4,"Ratio":0.58e-6},{"Day":"Sunday","Year":2021,"Hour":5,"Ratio":0.68e-6},{"Day":"Sunday","Year":2021,"Hour":6,"Ratio":0.90e-6},{"Day":"Sunday","Year":2021,"Hour":7,"Ratio":1.20e-6},{"Day":"Sunday","Year":2021,"Hour":8,"Ratio":1.60e-6},{"Day":"Sunday","Year":2021,"Hour":9,"Ratio":2.10e-6},{"Day":"Sunday","Year":2021,"Hour":10,"Ratio":2.65e-6},{"Day":"Sunday","Year":2021,"Hour":11,"Ratio":3.22e-6},{"Day":"Sunday","Year":2021,"Hour":12,"Ratio":3.70e-6},{"Day":"Sunday","Year":2021,"Hour":13,"Ratio":4.05e-6},{"Day":"Sunday","Year":2021,"Hour":14,"Ratio":4.22e-6},{"Day":"Sunday","Year":2021,"Hour":15,"Ratio":4.14e-6},{"Day":"Sunday","Year":2021,"Hour":16,"Ratio":3.88e-6},{"Day":"Sunday","Year":2021,"Hour":17,"Ratio":3.50e-6},{"Day":"Sunday","Year":2021,"Hour":18,"Ratio":3.05e-6},{"Day":"Sunday","Year":2021,"Hour":19,"Ratio":2.56e-6},{"Day":"Sunday","Year":2021,"Hour":20,"Ratio":2.02e-6},{"Day":"Sunday","Year":2021,"Hour":21,"Ratio":1.47e-6},{"Day":"Sunday","Year":2021,"Hour":22,"Ratio":1.08e-6},{"Day":"Sunday","Year":2021,"Hour":23,"Ratio":0.82e-6},
{"Day":"Sunday","Year":2022,"Hour":0,"Ratio":1.29e-6},{"Day":"Sunday","Year":2022,"Hour":1,"Ratio":0.90e-6},{"Day":"Sunday","Year":2022,"Hour":2,"Ratio":0.66e-6},{"Day":"Sunday","Year":2022,"Hour":3,"Ratio":0.57e-6},{"Day":"Sunday","Year":2022,"Hour":4,"Ratio":0.58e-6},{"Day":"Sunday","Year":2022,"Hour":5,"Ratio":0.68e-6},{"Day":"Sunday","Year":2022,"Hour":6,"Ratio":0.90e-6},{"Day":"Sunday","Year":2022,"Hour":7,"Ratio":1.20e-6},{"Day":"Sunday","Year":2022,"Hour":8,"Ratio":1.60e-6},{"Day":"Sunday","Year":2022,"Hour":9,"Ratio":2.10e-6},{"Day":"Sunday","Year":2022,"Hour":10,"Ratio":2.64e-6},{"Day":"Sunday","Year":2022,"Hour":11,"Ratio":3.20e-6},{"Day":"Sunday","Year":2022,"Hour":12,"Ratio":3.65e-6},{"Day":"Sunday","Year":2022,"Hour":13,"Ratio":3.98e-6},{"Day":"Sunday","Year":2022,"Hour":14,"Ratio":4.11e-6},{"Day":"Sunday","Year":2022,"Hour":15,"Ratio":4.06e-6},{"Day":"Sunday","Year":2022,"Hour":16,"Ratio":3.84e-6},{"Day":"Sunday","Year":2022,"Hour":17,"Ratio":3.48e-6},{"Day":"Sunday","Year":2022,"Hour":18,"Ratio":3.04e-6},{"Day":"Sunday","Year":2022,"Hour":19,"Ratio":2.55e-6},{"Day":"Sunday","Year":2022,"Hour":20,"Ratio":2.02e-6},{"Day":"Sunday","Year":2022,"Hour":21,"Ratio":1.46e-6},{"Day":"Sunday","Year":2022,"Hour":22,"Ratio":1.07e-6},{"Day":"Sunday","Year":2022,"Hour":23,"Ratio":0.80e-6},
{"Day":"Sunday","Year":2023,"Hour":0,"Ratio":1.28e-6},{"Day":"Sunday","Year":2023,"Hour":1,"Ratio":0.92e-6},{"Day":"Sunday","Year":2023,"Hour":2,"Ratio":0.70e-6},{"Day":"Sunday","Year":2023,"Hour":3,"Ratio":0.60e-6},{"Day":"Sunday","Year":2023,"Hour":4,"Ratio":0.61e-6},{"Day":"Sunday","Year":2023,"Hour":5,"Ratio":0.71e-6},{"Day":"Sunday","Year":2023,"Hour":6,"Ratio":0.92e-6},{"Day":"Sunday","Year":2023,"Hour":7,"Ratio":1.22e-6},{"Day":"Sunday","Year":2023,"Hour":8,"Ratio":1.62e-6},{"Day":"Sunday","Year":2023,"Hour":9,"Ratio":2.10e-6},{"Day":"Sunday","Year":2023,"Hour":10,"Ratio":2.62e-6},{"Day":"Sunday","Year":2023,"Hour":11,"Ratio":3.15e-6},{"Day":"Sunday","Year":2023,"Hour":12,"Ratio":3.45e-6},{"Day":"Sunday","Year":2023,"Hour":13,"Ratio":3.70e-6},{"Day":"Sunday","Year":2023,"Hour":14,"Ratio":3.84e-6},{"Day":"Sunday","Year":2023,"Hour":15,"Ratio":3.82e-6},{"Day":"Sunday","Year":2023,"Hour":16,"Ratio":3.66e-6},{"Day":"Sunday","Year":2023,"Hour":17,"Ratio":3.40e-6},{"Day":"Sunday","Year":2023,"Hour":18,"Ratio":3.01e-6},{"Day":"Sunday","Year":2023,"Hour":19,"Ratio":2.54e-6},{"Day":"Sunday","Year":2023,"Hour":20,"Ratio":2.01e-6},{"Day":"Sunday","Year":2023,"Hour":21,"Ratio":1.46e-6},{"Day":"Sunday","Year":2023,"Hour":22,"Ratio":1.07e-6},{"Day":"Sunday","Year":2023,"Hour":23,"Ratio":0.82e-6},
{"Day":"Sunday","Year":2024,"Hour":0,"Ratio":1.32e-6},{"Day":"Sunday","Year":2024,"Hour":1,"Ratio":0.95e-6},{"Day":"Sunday","Year":2024,"Hour":2,"Ratio":0.75e-6},{"Day":"Sunday","Year":2024,"Hour":3,"Ratio":0.64e-6},{"Day":"Sunday","Year":2024,"Hour":4,"Ratio":0.64e-6},{"Day":"Sunday","Year":2024,"Hour":5,"Ratio":0.75e-6},{"Day":"Sunday","Year":2024,"Hour":6,"Ratio":0.95e-6},{"Day":"Sunday","Year":2024,"Hour":7,"Ratio":1.25e-6},{"Day":"Sunday","Year":2024,"Hour":8,"Ratio":1.64e-6},{"Day":"Sunday","Year":2024,"Hour":9,"Ratio":2.12e-6},{"Day":"Sunday","Year":2024,"Hour":10,"Ratio":2.64e-6},{"Day":"Sunday","Year":2024,"Hour":11,"Ratio":3.17e-6},{"Day":"Sunday","Year":2024,"Hour":12,"Ratio":3.47e-6},{"Day":"Sunday","Year":2024,"Hour":13,"Ratio":3.73e-6},{"Day":"Sunday","Year":2024,"Hour":14,"Ratio":3.88e-6},{"Day":"Sunday","Year":2024,"Hour":15,"Ratio":3.86e-6},{"Day":"Sunday","Year":2024,"Hour":16,"Ratio":3.71e-6},{"Day":"Sunday","Year":2024,"Hour":17,"Ratio":3.43e-6},{"Day":"Sunday","Year":2024,"Hour":18,"Ratio":3.03e-6},{"Day":"Sunday","Year":2024,"Hour":19,"Ratio":2.56e-6},{"Day":"Sunday","Year":2024,"Hour":20,"Ratio":2.03e-6},{"Day":"Sunday","Year":2024,"Hour":21,"Ratio":1.47e-6},{"Day":"Sunday","Year":2024,"Hour":22,"Ratio":1.08e-6},{"Day":"Sunday","Year":2024,"Hour":23,"Ratio":0.86e-6},
{"Day":"Sunday","Year":2025,"Hour":0,"Ratio":1.04e-6},{"Day":"Sunday","Year":2025,"Hour":1,"Ratio":0.77e-6},{"Day":"Sunday","Year":2025,"Hour":2,"Ratio":0.62e-6},{"Day":"Sunday","Year":2025,"Hour":3,"Ratio":0.53e-6},{"Day":"Sunday","Year":2025,"Hour":4,"Ratio":0.53e-6},{"Day":"Sunday","Year":2025,"Hour":5,"Ratio":0.62e-6},{"Day":"Sunday","Year":2025,"Hour":6,"Ratio":0.82e-6},{"Day":"Sunday","Year":2025,"Hour":7,"Ratio":1.08e-6},{"Day":"Sunday","Year":2025,"Hour":8,"Ratio":1.47e-6},{"Day":"Sunday","Year":2025,"Hour":9,"Ratio":1.86e-6},{"Day":"Sunday","Year":2025,"Hour":10,"Ratio":2.25e-6},{"Day":"Sunday","Year":2025,"Hour":11,"Ratio":2.51e-6},{"Day":"Sunday","Year":2025,"Hour":12,"Ratio":2.75e-6},{"Day":"Sunday","Year":2025,"Hour":13,"Ratio":2.93e-6},{"Day":"Sunday","Year":2025,"Hour":14,"Ratio":3.04e-6},{"Day":"Sunday","Year":2025,"Hour":15,"Ratio":3.01e-6},{"Day":"Sunday","Year":2025,"Hour":16,"Ratio":2.90e-6},{"Day":"Sunday","Year":2025,"Hour":17,"Ratio":2.69e-6},{"Day":"Sunday","Year":2025,"Hour":18,"Ratio":2.38e-6},{"Day":"Sunday","Year":2025,"Hour":19,"Ratio":1.95e-6},{"Day":"Sunday","Year":2025,"Hour":20,"Ratio":1.53e-6},{"Day":"Sunday","Year":2025,"Hour":21,"Ratio":1.17e-6},{"Day":"Sunday","Year":2025,"Hour":22,"Ratio":0.88e-6},{"Day":"Sunday","Year":2025,"Hour":23,"Ratio":0.67e-6}
]},
"hconcat": [
{
  "width": 515.3, "height": 1262.7,
  "title": {"text": "Weekday", "offset": -21.4},
  "layer": [
    {
      "data": {"name": "traffic"},
      "transform": [{"filter": "datum.Day === 'Weekday'"}],
      "mark": {"type": "line", "strokeCap": "round", "strokeJoin": "round"},
      "encoding": {
        "x": {"field": "Hour", "type": "quantitative", "scale": {"domain": [-10, 30], "nice": false, "zero": false}, "axis": {"values": [-10, 30], "title": "Hour", "titlePadding": 7}},
        "y": {"field": "Ratio", "type": "quantitative", "scale": {"domain": [4.4e-8, 6.564e-6], "nice": false, "zero": false}, "axis": {"values": [1e-6, 2e-6, 3e-6, 4e-6, 5e-6, 6e-6], "labelExpr": "format(datum.value * 1e6, 'd')", "title": "Ratio", "titlePadding": 5}},
        "color": {"field": "Year", "type": "nominal", "scale": {"domain": [2019, 2020, 2021, 2022, 2023, 2024, 2025], "range": ["#f6b48f", "#f37651", "#e13342", "#ad1759", "#701f57", "#35193e", "#f6b48f"]}, "legend": {"title": null, "orient": "none", "legendX": 2110.6, "legendY": 48.3, "zindex": 2, "symbolType": "M-1.9,0H1.9", "symbolSize": 1936, "symbolStrokeWidth": 4.7, "symbolOffset": 18, "labelFontSize": 42, "labelOffset": 50.7, "padding": 15, "rowPadding": 16.5, "encode": {"symbols": {"update": {"strokeCap": {"value": "round"}}}}}},
        "strokeWidth": {"field": "Year", "type": "quantitative", "scale": {"domain": [2019, 2025], "range": [2.3, 9.2], "zero": false, "nice": false}, "legend": {"title": "Year", "orient": "none", "legendX": 2110.6, "legendY": -7.3, "zindex": 1, "values": [2019, 2020, 2021, 2022, 2023, 2024, 2025], "format": "d", "symbolType": "M-1.9,0H1.9", "symbolSize": 1936, "symbolOffset": 15.5, "symbolStrokeColor": "#333333", "labelFontSize": 42, "labelOffset": 50.5, "titleFontSize": 36, "titleFontWeight": "normal", "titleAnchor": "middle", "titlePadding": 458, "padding": 15, "rowPadding": 16.5, "fillColor": "rgba(255,255,255,0.8)", "strokeColor": "#d6d6d6", "cornerRadius": 8, "encode": {"symbols": {"update": {"strokeCap": {"value": "round"}, "stroke": {"value": "#333333"}}}, "legend": {"update": {"strokeWidth": {"value": 2.7}}}}}}
      }
    },
    {
      "data": {"values": [{"label": "1e−6"}]},
      "mark": {"type": "text", "align": "left", "baseline": "alphabetic", "dx": 1, "dy": -4, "fontSize": 27.5, "color": "#262626", "font": "DejaVu Sans"},
      "encoding": {
        "x": {"datum": -10, "type": "quantitative"},
        "y": {"datum": 6.564e-6, "type": "quantitative"},
        "text": {"field": "label"}
      }
    }
  ]
},
{
  "width": 515.3, "height": 1262.7,
  "title": {"text": "Friday"},
  "data": {"name": "traffic"},
  "transform": [{"filter": "datum.Day === 'Friday'"}],
  "mark": {"type": "line", "strokeCap": "round", "strokeJoin": "round"},
  "encoding": {
    "x": {"field": "Hour", "type": "quantitative", "scale": {"domain": [-10, 30], "nice": false, "zero": false}, "axis": {"values": [-10, 30], "title": "Hour", "titlePadding": 7}},
    "y": {"field": "Ratio", "type": "quantitative", "scale": {"domain": [4.4e-8, 6.564e-6], "nice": false, "zero": false}, "axis": {"values": [1e-6, 2e-6, 3e-6, 4e-6, 5e-6, 6e-6], "labels": false, "title": null}},
    "color": {"field": "Year", "type": "nominal", "scale": {"domain": [2019, 2020, 2021, 2022, 2023, 2024, 2025], "range": ["#f6b48f", "#f37651", "#e13342", "#ad1759", "#701f57", "#35193e", "#f6b48f"]}, "legend": {"title": null, "orient": "none", "legendX": 2110.6, "legendY": 48.3, "zindex": 2, "symbolType": "M-1.9,0H1.9", "symbolSize": 1936, "symbolStrokeWidth": 4.7, "symbolOffset": 18, "labelFontSize": 42, "labelOffset": 50.7, "padding": 15, "rowPadding": 16.5, "encode": {"symbols": {"update": {"strokeCap": {"value": "round"}}}}}},
    "strokeWidth": {"field": "Year", "type": "quantitative", "scale": {"domain": [2019, 2025], "range": [2.3, 9.2], "zero": false, "nice": false}, "legend": {"title": "Year", "orient": "none", "legendX": 2110.6, "legendY": -7.3, "zindex": 1, "values": [2019, 2020, 2021, 2022, 2023, 2024, 2025], "format": "d", "symbolType": "M-1.9,0H1.9", "symbolSize": 1936, "symbolOffset": 15.5, "symbolStrokeColor": "#333333", "labelFontSize": 42, "labelOffset": 50.5, "titleFontSize": 36, "titleFontWeight": "normal", "titleAnchor": "middle", "titlePadding": 458, "padding": 15, "rowPadding": 16.5, "fillColor": "rgba(255,255,255,0.8)", "strokeColor": "#d6d6d6", "cornerRadius": 8, "encode": {"symbols": {"update": {"strokeCap": {"value": "round"}, "stroke": {"value": "#333333"}}}, "legend": {"update": {"strokeWidth": {"value": 2.7}}}}}}
  }
},
{
  "width": 515.3, "height": 1262.7,
  "title": {"text": "Saturday"},
  "data": {"name": "traffic"},
  "transform": [{"filter": "datum.Day === 'Saturday'"}],
  "mark": {"type": "line", "strokeCap": "round", "strokeJoin": "round"},
  "encoding": {
    "x": {"field": "Hour", "type": "quantitative", "scale": {"domain": [-10, 30], "nice": false, "zero": false}, "axis": {"values": [-10, 30], "title": "Hour", "titlePadding": 7}},
    "y": {"field": "Ratio", "type": "quantitative", "scale": {"domain": [4.4e-8, 6.564e-6], "nice": false, "zero": false}, "axis": {"values": [1e-6, 2e-6, 3e-6, 4e-6, 5e-6, 6e-6], "labels": false, "title": null}},
    "color": {"field": "Year", "type": "nominal", "scale": {"domain": [2019, 2020, 2021, 2022, 2023, 2024, 2025], "range": ["#f6b48f", "#f37651", "#e13342", "#ad1759", "#701f57", "#35193e", "#f6b48f"]}, "legend": {"title": null, "orient": "none", "legendX": 2110.6, "legendY": 48.3, "zindex": 2, "symbolType": "M-1.9,0H1.9", "symbolSize": 1936, "symbolStrokeWidth": 4.7, "symbolOffset": 18, "labelFontSize": 42, "labelOffset": 50.7, "padding": 15, "rowPadding": 16.5, "encode": {"symbols": {"update": {"strokeCap": {"value": "round"}}}}}},
    "strokeWidth": {"field": "Year", "type": "quantitative", "scale": {"domain": [2019, 2025], "range": [2.3, 9.2], "zero": false, "nice": false}, "legend": {"title": "Year", "orient": "none", "legendX": 2110.6, "legendY": -7.3, "zindex": 1, "values": [2019, 2020, 2021, 2022, 2023, 2024, 2025], "format": "d", "symbolType": "M-1.9,0H1.9", "symbolSize": 1936, "symbolOffset": 15.5, "symbolStrokeColor": "#333333", "labelFontSize": 42, "labelOffset": 50.5, "titleFontSize": 36, "titleFontWeight": "normal", "titleAnchor": "middle", "titlePadding": 458, "padding": 15, "rowPadding": 16.5, "fillColor": "rgba(255,255,255,0.8)", "strokeColor": "#d6d6d6", "cornerRadius": 8, "encode": {"symbols": {"update": {"strokeCap": {"value": "round"}, "stroke": {"value": "#333333"}}}, "legend": {"update": {"strokeWidth": {"value": 2.7}}}}}}
  }
},
{
  "width": 515.3, "height": 1262.7,
  "title": {"text": "Sunday"},
  "data": {"name": "traffic"},
  "transform": [{"filter": "datum.Day === 'Sunday'"}],
  "mark": {"type": "line", "strokeCap": "round", "strokeJoin": "round"},
  "encoding": {
    "x": {"field": "Hour", "type": "quantitative", "scale": {"domain": [-10, 30], "nice": false, "zero": false}, "axis": {"values": [-10, 30], "title": "Hour", "titlePadding": 7}},
    "y": {"field": "Ratio", "type": "quantitative", "scale": {"domain": [4.4e-8, 6.564e-6], "nice": false, "zero": false}, "axis": {"values": [1e-6, 2e-6, 3e-6, 4e-6, 5e-6, 6e-6], "labels": false, "title": null}},
    "color": {"field": "Year", "type": "nominal", "scale": {"domain": [2019, 2020, 2021, 2022, 2023, 2024, 2025], "range": ["#f6b48f", "#f37651", "#e13342", "#ad1759", "#701f57", "#35193e", "#f6b48f"]}, "legend": {"title": null, "orient": "none", "legendX": 2110.6, "legendY": 48.3, "zindex": 2, "symbolType": "M-1.9,0H1.9", "symbolSize": 1936, "symbolStrokeWidth": 4.7, "symbolOffset": 18, "labelFontSize": 42, "labelOffset": 50.7, "padding": 15, "rowPadding": 16.5, "encode": {"symbols": {"update": {"strokeCap": {"value": "round"}}}}}},
    "strokeWidth": {"field": "Year", "type": "quantitative", "scale": {"domain": [2019, 2025], "range": [2.3, 9.2], "zero": false, "nice": false}, "legend": {"title": "Year", "orient": "none", "legendX": 2110.6, "legendY": -7.3, "zindex": 1, "values": [2019, 2020, 2021, 2022, 2023, 2024, 2025], "format": "d", "symbolType": "M-1.9,0H1.9", "symbolSize": 1936, "symbolOffset": 15.5, "symbolStrokeColor": "#333333", "labelFontSize": 42, "labelOffset": 50.5, "titleFontSize": 36, "titleFontWeight": "normal", "titleAnchor": "middle", "titlePadding": 458, "padding": 15, "rowPadding": 16.5, "fillColor": "rgba(255,255,255,0.8)", "strokeColor": "#d6d6d6", "cornerRadius": 8, "encode": {"symbols": {"update": {"strokeCap": {"value": "round"}, "stroke": {"value": "#333333"}}}, "legend": {"update": {"strokeWidth": {"value": 2.7}}}}}}
  }
}
]
}
